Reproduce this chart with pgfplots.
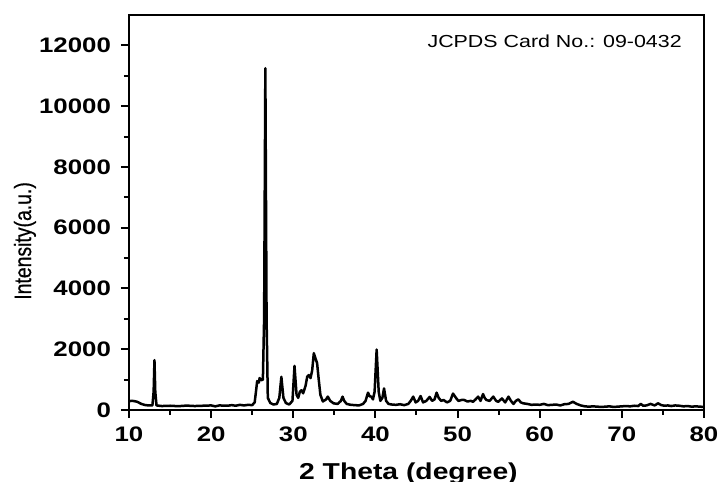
\documentclass[border=0pt]{standalone}
\usepackage{fontspec}
\setmainfont{Liberation Sans}[FakeStretch=1.23]
\newfontfamily\ylfont{Liberation Sans}[FakeBold=0.6]
\usepackage{graphicx}
\usepackage{pgfplots}
\pgfplotsset{compat=1.18}
\begin{document}
\begin{tikzpicture}
\useasboundingbox (-64.5pt,-36pt) rectangle (295.5pt,205pt);
\begin{axis}[
  at={(0,0)}, anchor=south west,
  scale only axis,
  width=287.5pt, height=197.5pt,
  xmin=10, xmax=80, ymin=0, ymax=13000,
  xtick={10,20,...,80},
  ytick={0,2000,...,12000},
  scaled y ticks=false,
  minor x tick num=1, minor y tick num=1,
  tick pos=left, tick align=outside,
  major tick length=4pt, minor tick length=2.5pt,
  every tick/.style={black, line width=1pt},
  axis line style={line width=1.2pt},
  /pgf/number format/1000 sep={},
  /pgf/number format/assume math mode=true,
  ticklabel style={font=\bfseries\fontsize{10.5}{12}\selectfont},
  xticklabel style={yshift=-1pt},
  yticklabel style={xshift=-1.5pt},
  xlabel={2 Theta (degree)},
  ylabel={\scalebox{1}[1.22]{Intensity(a.u.)}},
  every axis x label/.style={at={(axis description cs:0.486,0)}, anchor=base, yshift=-35pt, font=\bfseries\fontsize{11.5}{13}\selectfont},
  every axis y label/.style={at={(axis description cs:-0.181,0.428)}, anchor=center, rotate=90, font=\ylfont\fontsize{9.7}{11}\selectfont},
]
\addplot[black, line width=1.25pt, line join=round] coordinates {
(10.0,290) (10.3,300) (10.6,295) (11.0,270) (11.5,200) (12.0,160) (12.5,150) (12.85,150)
(13.0,600) (13.1,1640) (13.2,600) (13.35,150) (14,130) (15,140) (16,125) (17,145) (18,130)
(19,140) (20,150) (20.5,120) (21,150) (22,140) (22.5,160) (23,140) (23.5,170) (24,150)
(24.5,170) (25,160) (25.3,250) (25.5,700) (25.6,950) (25.8,900) (25.9,1050) (26.1,980)
(26.3,1000) (26.45,3000) (26.6,11250) (26.75,3000) (26.9,400) (27.2,230) (27.6,180)
(28.0,200) (28.3,400) (28.55,1090) (28.8,400) (29.1,230) (29.5,180) (29.9,300) (30.15,1450)
(30.4,500) (30.6,400) (30.8,600) (31.0,650) (31.2,550) (31.5,800) (31.7,1100) (31.9,1150)
(32.1,1050) (32.3,1300) (32.5,1870) (32.7,1700) (32.9,1540) (33.1,1000) (33.3,500)
(33.6,280) (34.0,350) (34.2,440) (34.5,300) (34.9,220) (35.4,200) (35.8,300) (36.0,440)
(36.2,300) (36.5,200) (37,170) (37.5,160) (38,150) (38.5,200) (38.8,300) (39.1,570)
(39.3,450) (39.5,440) (39.7,350) (39.9,600) (40.15,1990) (40.4,600) (40.6,300) (40.85,400)
(41.05,710) (41.3,300) (41.6,200) (42,180) (42.5,170) (43,190) (43.5,160) (44,200)
(44.3,300) (44.6,440) (44.9,250) (45.2,300) (45.5,460) (45.8,250) (46.2,300) (46.6,430)
(46.9,300) (47.2,350) (47.45,570) (47.7,400) (48,300) (48.3,330) (48.7,250) (49.1,300)
(49.45,540) (49.8,400) (50.1,300) (50.5,330) (50.8,330) (51.2,280) (51.6,300) (51.9,270)
(52.2,350) (52.5,440) (52.8,300) (53.1,525) (53.3,400) (53.5,330) (53.9,300) (54.35,440)
(54.7,300) (54.95,270) (55.4,380) (55.8,250) (56.2,440) (56.5,300) (56.8,200) (57.1,300)
(57.4,350) (57.7,250) (58.0,220) (58.5,200) (59,170) (59.5,180) (60,170) (60.5,200)
(61,160) (61.5,170) (62,180) (62.5,150) (63,190) (63.5,200) (64.05,270) (64.5,200)
(65,150) (65.5,120) (66,110) (66.5,120) (67,110) (67.5,100) (68,110) (68.5,120) (69,100)
(69.5,110) (70,120) (70.5,130) (71,120) (71.5,140) (72,130) (72.3,200) (72.6,140) (73,150)
(73.5,200) (74,150) (74.4,220) (74.8,160) (75.2,140) (75.6,150) (76,130) (76.5,150)
(77,140) (77.5,120) (78,130) (78.5,110) (79,120) (79.5,110) (80,100)
};
\node[anchor=base east, inner sep=0pt, font=\fontsize{8.7}{10}\selectfont] at (rel axis cs:0.962,0.9165) {JCPDS Card No.: 09-0432};
\end{axis}
\end{tikzpicture}
\end{document}
